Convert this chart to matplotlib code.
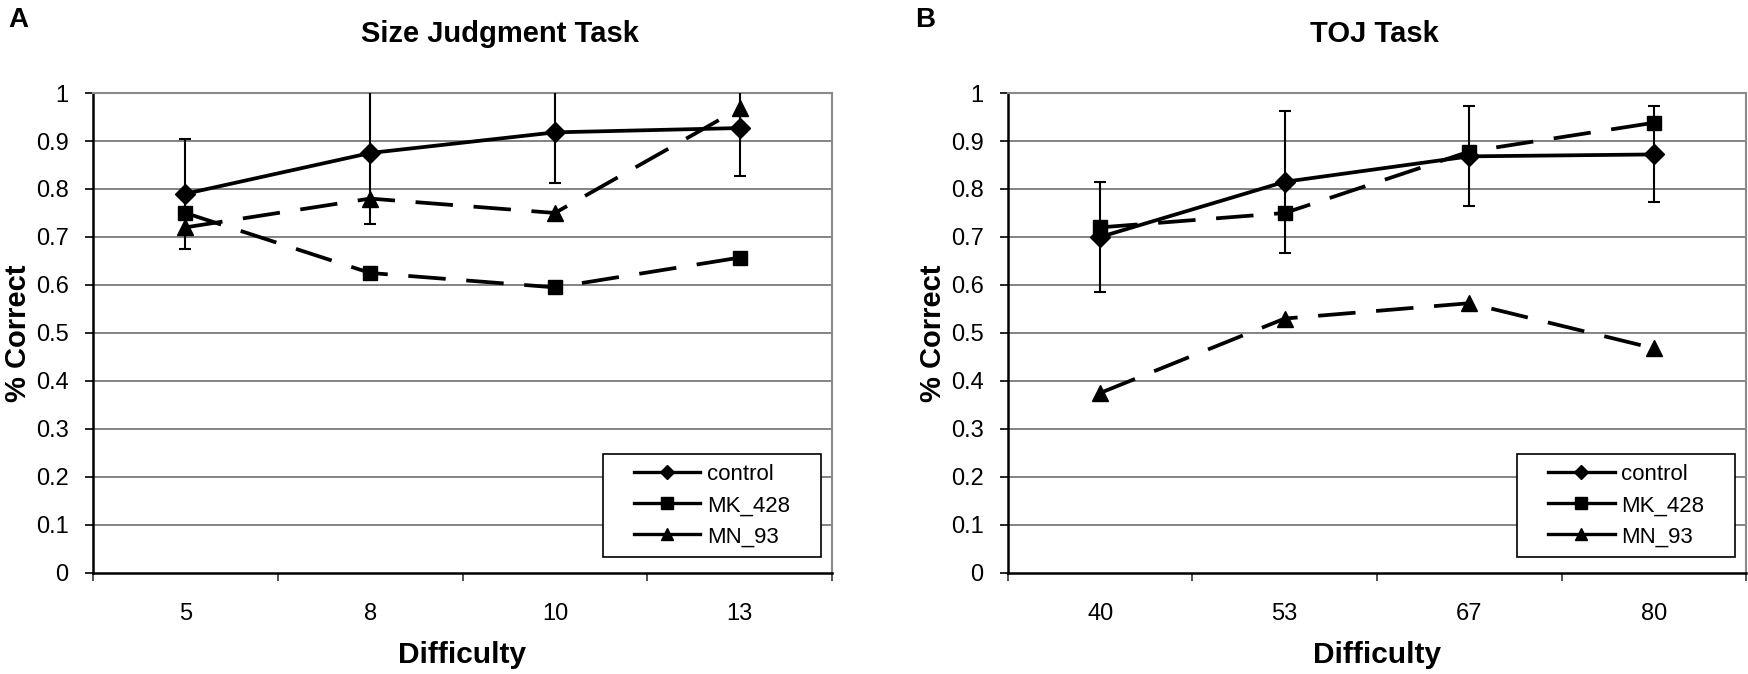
import matplotlib
matplotlib.use('Agg')
import matplotlib.pyplot as plt
from matplotlib.lines import Line2D
from matplotlib.patches import Rectangle

plt.rcParams['font.family'] = ['Liberation Sans', 'DejaVu Sans']

# Panel A: size judgment task
size_levels = ['5', '8', '10', '13']
size_control = [0.79, 0.875, 0.918, 0.927]
size_control_err = [0.115, 0.147, 0.105, 0.10]
size_mk428 = [0.75, 0.625, 0.595, 0.657]
size_mn93 = [0.72, 0.78, 0.75, 0.968]

# Panel B: temporal order judgment task
toj_levels = ['40', '53', '67', '80']
toj_control = [0.70, 0.815, 0.868, 0.872]
toj_control_err = [0.114, 0.148, 0.104, 0.10]
toj_mk428 = [0.72, 0.75, 0.878, 0.938]
toj_mn93 = [0.375, 0.53, 0.562, 0.468]

series_names = ['control', 'MK_428', 'MN_93']
y_ticks = [0, 0.1, 0.2, 0.3, 0.4, 0.5, 0.6, 0.7, 0.8, 0.9, 1]
y_tick_labels = ['0', '0.1', '0.2', '0.3', '0.4', '0.5', '0.6', '0.7', '0.8', '0.9', '1']

DASH = (0, (10, 5.5))
LW = 2.7


def draw_panel(ax, levels, control, control_err, mk, mn, title, title_x):
    x = list(range(1, len(levels) + 1))

    # gridlines and frame in the Excel style
    for yv in y_ticks[1:]:
        ax.axhline(yv, color='#6e6e6e', lw=1.2, zorder=0)
    ax.set_xlim(0.5, len(levels) + 0.5)
    ax.set_ylim(0, 1)

    ax.errorbar(x, control, yerr=control_err, fmt='none', ecolor='black',
                elinewidth=1.5, capsize=4, capthick=1.5, zorder=3)
    ax.plot(x, control, color='black', lw=LW, marker='D', ms=10,
            zorder=4)
    ax.plot(x, mk, color='black', lw=LW, ls=DASH, marker='s', ms=10,
            zorder=4)
    ax.plot(x, mn, color='black', lw=LW, ls=DASH, marker='^', ms=11,
            zorder=4)

    ax.set_xticks(x)
    ax.set_xticklabels(levels)
    ax.set_xticks([i + 0.5 for i in range(len(levels) + 1)], minor=True)
    ax.tick_params(axis='x', which='major', length=0, pad=22, labelsize=17)
    ax.tick_params(axis='x', which='minor', length=5.5, width=1.2,
                   direction='out', color='#333333')
    ax.set_yticks(y_ticks)
    ax.set_yticklabels(y_tick_labels)
    ax.tick_params(axis='y', length=5.5, width=1.2, direction='out',
                   pad=12, labelsize=17)

    ax.spines['left'].set_linewidth(1.8)
    ax.spines['bottom'].set_linewidth(1.8)
    ax.spines['top'].set_color('#8a8a8a')
    ax.spines['right'].set_color('#8a8a8a')
    ax.spines['top'].set_linewidth(1.5)
    ax.spines['right'].set_linewidth(1.5)
    ax.spines['bottom'].set_zorder(5)

    ax.text(title_x, 1.122, title, transform=ax.transAxes, ha='center',
            va='center', fontsize=21, fontweight='bold')
    ax.set_xlabel('Difficulty', fontsize=21.5, fontweight='bold')
    ax.xaxis.set_label_coords(0.5, -0.171)
    ax.xaxis.label.set_va('center')
    ax.set_ylabel('% Correct', fontsize=21, fontweight='bold')
    ax.yaxis.set_label_coords(-0.102, 0.5)
    ax.yaxis.label.set_va('center')

    # legend box (wider than its content, as Excel draws it)
    ax.add_patch(Rectangle((0.690, 0.033), 0.295, 0.214,
                           transform=ax.transAxes, facecolor='white',
                           edgecolor='black', lw=1.2, zorder=6,
                           clip_on=False))
    # legend shows plain solid lines for every series, as in the original
    handles = [
        Line2D([], [], color='black', lw=2.4, marker='D', ms=7.5),
        Line2D([], [], color='black', lw=2.4, marker='s', ms=8.5),
        Line2D([], [], color='black', lw=2.4, marker='^', ms=8.5),
    ]
    leg = ax.legend(handles, series_names, loc='center',
                    bbox_to_anchor=(0.8375, 0.14), fontsize=16,
                    frameon=False, handlelength=3.0, handletextpad=0.3,
                    labelspacing=0.45, borderpad=0)
    leg.set_zorder(7)


fig = plt.figure(figsize=(17.49, 6.74), dpi=100)
ax_a = fig.add_axes([0.0532, 0.150, 0.4225, 0.712])
ax_b = fig.add_axes([0.5763, 0.150, 0.4220, 0.712])

draw_panel(ax_a, size_levels, size_control, size_control_err,
           size_mk428, size_mn93, 'Size Judgment Task', 0.551)
draw_panel(ax_b, toj_levels, toj_control, toj_control_err,
           toj_mk428, toj_mn93, 'TOJ Task', 0.497)

fig.text(0.0046, 0.970, 'A', fontsize=20, fontweight='bold', va='center')
fig.text(0.5235, 0.970, 'B', fontsize=20, fontweight='bold', va='center')

fig.savefig('out.png', dpi=100)
